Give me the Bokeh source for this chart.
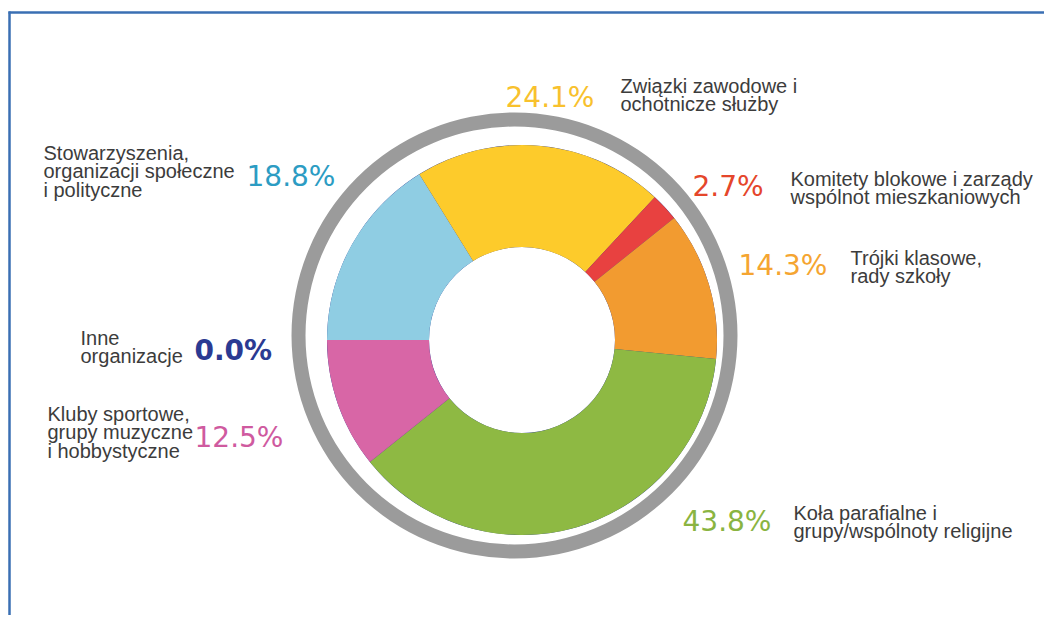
import math
from bokeh.plotting import figure
from bokeh.models import Range1d, ColumnDataSource
from bokeh.core.properties import value
from bokeh.embed import file_html
from bokeh.resources import INLINE

# ---- data (clockwise from 9 o'clock) ----
categories = [
    "Inne\norganizacje",
    "Stowarzyszenia,\norganizacji społeczne\ni polityczne",
    "Związki zawodowe i\nochotnicze służby",
    "Komitety blokowe i zarządy\nwspólnot mieszkaniowych",
    "Trójki klasowe,\nrady szkoły",
    "Koła parafialne i\ngrupy/wspólnoty religijne",
    "Kluby sportowe,\ngrupy muzyczne\ni hobbystyczne",
]
values = [0.0, 18.8, 24.1, 2.7, 14.3, 43.8, 12.5]
pct_labels = ["0.0%", "18.8%", "24.1%", "2.7%", "14.3%", "43.8%", "12.5%"]

# ---- styles ----
slice_colors = ["#2B3990", "#8FCDE3", "#FDCB2B", "#E84140", "#F29B30", "#8EB943", "#D866A6"]
pct_colors = ["#2B3A92", "#2C9CC3", "#F8C12D", "#E5462B", "#F5A531", "#8AB441", "#CF5A9F"]
pct_bold = [True, False, False, False, False, False, False]

W, H = 1044, 615
def X(xi):
    return xi
def Y(yi):
    return H - yi

# layout (image px): percent left x, percent baseline y, label left x, label first baseline y
pct_pos = [(194, 350), (246, 176), (505, 97), (692, 186), (738, 265), (682, 521), (194, 437)]
lab_pos = [(80, 337), (43, 152), (620, 85), (790, 178), (850, 257), (793, 512), (47, 413)]
line_gap = 18.5

p = figure(width=W, height=H, output_backend="svg", toolbar_location=None,
           x_range=Range1d(0, W), y_range=Range1d(0, H), min_border=0)
p.axis.visible = False
p.grid.visible = False
p.outline_line_color = None
p.background_fill_color = "white"
p.border_fill_color = "white"

cx, cy = X(521.5), Y(339.5)

# outer grey ring
p.annulus(x=[X(514)], y=[Y(335)], inner_radius=209, outer_radius=223,
          fill_color="#9B9B9B", line_color=None)

# donut slices
total = sum(values)
starts, ends = [], []
cum = 0.0
for v in values:
    a0 = math.pi - cum / total * 2 * math.pi
    a1 = math.pi - (cum + v) / total * 2 * math.pi
    starts.append(a1)
    ends.append(a0)
    cum += v
src = ColumnDataSource(dict(start=starts, end=ends, color=slice_colors, cat=categories, val=values))
p.annular_wedge(x=cx, y=cy, inner_radius=93, outer_radius=195, start_angle="start",
                end_angle="end", direction="anticlock", fill_color="color",
                line_color=None, source=src)

# percentage labels
for i, t in enumerate(pct_labels):
    px, py = pct_pos[i]
    p.text(x=[X(px)], y=[Y(py)], text=[t], text_color=pct_colors[i],
           text_font=value("DejaVu Sans"), text_font_size="28px",
           text_font_style="bold" if pct_bold[i] else "normal",
           text_baseline="alphabetic", text_align="left")

# category labels
for i, c in enumerate(categories):
    lx, ly = lab_pos[i]
    for j, line in enumerate(c.split("\n")):
        p.text(x=[X(lx)], y=[Y(ly + j * line_gap)], text=[line], text_color="#3C3C3C",
               text_font=value("Liberation Sans"), text_font_size="20px",
               text_baseline="alphabetic", text_align="left")

# frame lines (top and left)
p.segment(x0=[X(8)], y0=[Y(12)], x1=[X(W)], y1=[Y(12)], line_color="#3A6FB3", line_width=2.5)
p.segment(x0=[X(9)], y0=[Y(11)], x1=[X(9)], y1=[Y(H)], line_color="#3A6FB3", line_width=2.5)

open("out.html", "w").write(file_html(p, INLINE))
